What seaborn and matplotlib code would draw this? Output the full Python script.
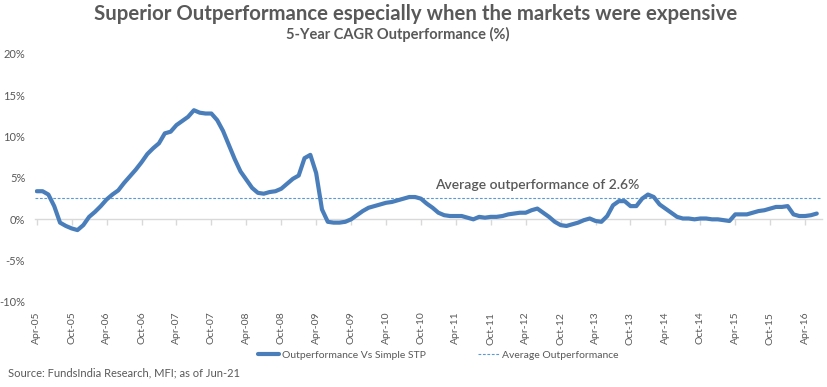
import numpy as np
import pandas as pd
import matplotlib
matplotlib.use("Agg")
import matplotlib.pyplot as plt
import seaborn as sns

# ---- data ----
start_month = "2005-04-01"
values = [
    3.4, 3.4, 3.0, 1.6, -0.4, -0.8, -1.1, -1.3, -0.7, 0.3,
    0.9, 1.6, 2.4, 3.0, 3.5, 4.4, 5.2, 6.0, 6.9, 7.9,
    8.6, 9.2, 10.4, 10.6, 11.4, 11.9, 12.4, 13.2, 12.9, 12.8,
    12.8, 12.0, 10.7, 9.0, 7.3, 5.8, 4.8, 3.8, 3.2, 3.1,
    3.3, 3.4, 3.7, 4.3, 4.9, 5.3, 7.4, 7.8, 5.6, 1.2,
    -0.3, -0.4, -0.4, -0.3, 0.0, 0.5, 1.0, 1.4, 1.6, 1.8,
    2.0, 2.1, 2.3, 2.5, 2.7, 2.7, 2.5, 1.9, 1.4, 0.8,
    0.5, 0.4, 0.4, 0.4, 0.2, 0.0, 0.3, 0.2, 0.3, 0.3,
    0.4, 0.6, 0.7, 0.8, 0.8, 1.1, 1.3, 0.8, 0.3, -0.3,
    -0.7, -0.8, -0.6, -0.4, -0.1, 0.1, -0.2, -0.3, 0.4, 1.7,
    2.2, 2.2, 1.6, 1.6, 2.5, 3.0, 2.7, 1.8, 1.3, 0.8,
    0.3, 0.1, 0.1, 0.0, 0.1, 0.1, 0.0, 0.0, -0.1, -0.2,
    0.6, 0.6, 0.6, 0.8, 1.0, 1.1, 1.3, 1.5, 1.5, 1.6,
    0.6, 0.4, 0.4, 0.5, 0.7,
]
average_value = 2.6
series_name = "Outperformance Vs Simple STP"
average_name = "Average Outperformance"
yticks = [-10, -5, 0, 5, 10, 15, 20]
ytick_labels = ["-10%", "-5%", "0%", "5%", "10%", "15%", "20%"]
title = "Superior Outperformance especially when the markets were expensive"
subtitle = "5-Year CAGR Outperformance (%)"
annotation = "Average outperformance of 2.6%"
source = "Source: FundsIndia Research, MFI; as of Jun-21"

months = pd.date_range(start_month, periods=len(values), freq="MS")
month_labels = list(months.strftime("%b-%y"))
df = pd.DataFrame({"t": np.arange(len(values)), "month": month_labels, "value": values})

# ---- style ----
sns.set_theme(style="white")
plt.rcParams["font.family"] = ["Lato", "DejaVu Sans"]
TXT = "#595959"
BLUE = "#4a7ebb"
GRID = "#d9d9d9"

fig = plt.figure(figsize=(8.27, 3.87), dpi=100)
ax = fig.add_axes([35 / 827, 85 / 387, (822 - 35) / 827, 248 / 387])

sns.lineplot(data=df, x="t", y="value", ax=ax, color=BLUE, linewidth=3.0,
             label=series_name, legend=False)
ax.axhline(average_value, color="#5b9bd5", linewidth=0.8, linestyle=(0, (2.5, 1.5)),
           label=average_name)

ax.set_ylim(-10, 20)
ax.set_xlim(-0.3, len(values) - 0.1)
ax.set_yticks(yticks)
ax.set_yticklabels(ytick_labels, color=TXT, fontsize=8)
tick_pos = df["t"][::6]
ax.set_xticks(tick_pos)
ax.set_xticklabels(df["month"][::6], rotation=90, color=TXT, fontsize=7.5)
ax.tick_params(axis="x", length=0, pad=7)
ax.tick_params(axis="y", length=0, pad=7)
ax.set_xlabel("")
ax.set_ylabel("")
for s in ax.spines.values():
    s.set_visible(False)

# zero axis with tick marks
sec = ax.secondary_xaxis(1 / 3)
sec.set_xticks(tick_pos)
sec.set_xticklabels([""] * len(tick_pos))
sec.tick_params(axis="x", direction="out", length=4, color=GRID, width=1)
for s in sec.spines.values():
    s.set_visible(False)
sec.spines["bottom"].set_visible(True)
sec.spines["bottom"].set_color(GRID)
sec.spines["bottom"].set_linewidth(1)
ax.lines[0].set_zorder(5)

ax.text(68.5, 4.15, annotation, color=TXT, fontsize=10, fontweight="semibold",
        ha="left", va="center")

fig.text(416 / 827, 1 - 14 / 387, title, ha="center", va="center", color=TXT,
         fontsize=14.7, fontweight="bold")
fig.text(398 / 827, 1 - 34 / 387, subtitle, ha="center", va="center", color=TXT,
         fontsize=10.5, fontweight="bold")
fig.text(8 / 827, 1 - 373 / 387, source, ha="left", va="center", color=TXT, fontsize=8)

handles, labels = ax.get_legend_handles_labels()
leg = fig.legend(handles, labels, loc="center", bbox_to_anchor=(0.53, 1 - 355 / 387),
                 ncol=2, frameon=False, fontsize=7.5, handlelength=2.0,
                 columnspacing=5.0, handletextpad=0.3)
for t in leg.get_texts():
    t.set_color(TXT)

fig.savefig("out.png", dpi=100)
